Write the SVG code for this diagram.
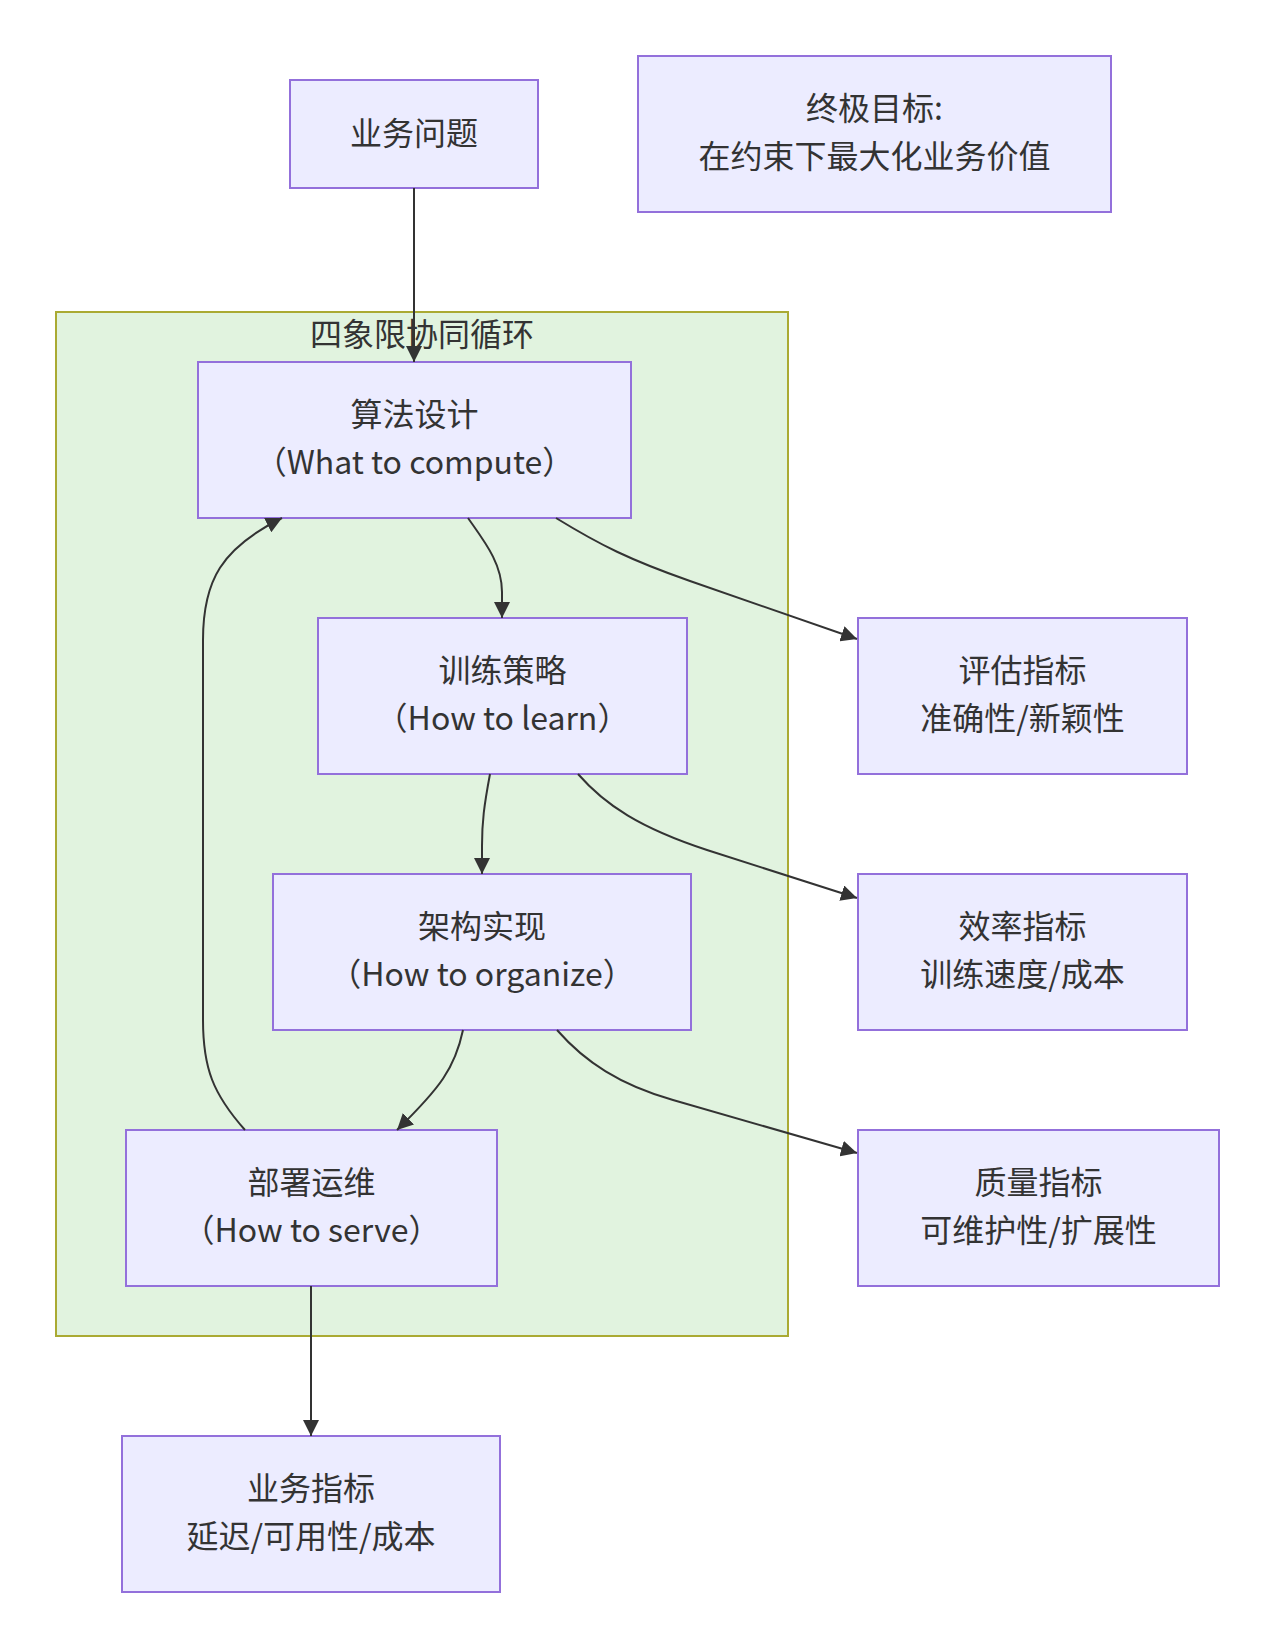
<svg xmlns="http://www.w3.org/2000/svg" width="1275" height="1648" viewBox="0 0 1275 1648">
<defs>
<style>
.node rect{fill:#ECECFF;stroke:#9370DB;stroke-width:2;}
.cluster rect{fill:#e1f3df;stroke:#aaaa33;stroke-width:2;}
text{font-family:"Noto Sans CJK SC","Noto Sans",sans-serif;font-size:32px;fill:#333;text-anchor:middle;}
.edges path{fill:none;stroke:#333;stroke-width:2;}
</style>
<marker id="arrow" viewBox="0 0 10 10" refX="10" refY="5" markerUnits="userSpaceOnUse" markerWidth="16" markerHeight="16" orient="auto">
<path d="M0,0 L10,5 L0,10 z" fill="#333"/>
</marker>
</defs>
<rect width="1275" height="1648" fill="#ffffff"/>
<g id="cluster-loop" class="cluster">
<rect x="56" y="312" width="732" height="1024"/>
<text x="422" y="346">四象限协同循环</text>
</g>
<g id="node-biz" class="node">
<rect x="290" y="80" width="248" height="108"/>
<text x="414" y="145">业务问题</text>
</g>
<g id="node-goal" class="node">
<rect x="638" y="56" width="473" height="156"/>
<text x="874.5" y="120">终极目标:</text>
<text x="874.5" y="168">在约束下最大化业务价值</text>
</g>
<g id="node-algo" class="node">
<rect x="198" y="362" width="433" height="156"/>
<text x="414.5" y="426">算法设计</text>
<text x="414.5" y="474">（What to compute）</text>
</g>
<g id="node-train" class="node">
<rect x="318" y="618" width="369" height="156"/>
<text x="502.5" y="682">训练策略</text>
<text x="502.5" y="730">（How to learn）</text>
</g>
<g id="node-eval" class="node">
<rect x="858" y="618" width="329" height="156"/>
<text x="1022.5" y="682">评估指标</text>
<text x="1022.5" y="730">准确性/新颖性</text>
</g>
<g id="node-arch" class="node">
<rect x="273" y="874" width="418" height="156"/>
<text x="482" y="938">架构实现</text>
<text x="482" y="986">（How to organize）</text>
</g>
<g id="node-eff" class="node">
<rect x="858" y="874" width="329" height="156"/>
<text x="1022.5" y="938">效率指标</text>
<text x="1022.5" y="986">训练速度/成本</text>
</g>
<g id="node-deploy" class="node">
<rect x="126" y="1130" width="371" height="156"/>
<text x="311.5" y="1194">部署运维</text>
<text x="311.5" y="1242">（How to serve）</text>
</g>
<g id="node-qual" class="node">
<rect x="858" y="1130" width="361" height="156"/>
<text x="1038.5" y="1194">质量指标</text>
<text x="1038.5" y="1242">可维护性/扩展性</text>
</g>
<g id="node-bizm" class="node">
<rect x="122" y="1436" width="378" height="156"/>
<text x="311" y="1500">业务指标</text>
<text x="311" y="1548">延迟/可用性/成本</text>
</g>
<g id="connectors" class="edges">
<path d="M414,188 L414,362" marker-end="url(#arrow)"/>
<path d="M468,518 C484,541 502,563 502,592 L502,618" marker-end="url(#arrow)"/>
<path d="M490,774 C484,806 482,822 482,846 L482,874" marker-end="url(#arrow)"/>
<path d="M463,1030 C455,1068 440,1088 397,1130" marker-end="url(#arrow)"/>
<path d="M245,1130 C213,1094 203,1068 203,1020 L203,640 C203,580 222,548 282,518" marker-end="url(#arrow)"/>
<path d="M556,518 C600,545 630,560 690,581 L857,639" marker-end="url(#arrow)"/>
<path d="M578,774 C605,805 640,828 707,850 L857,898" marker-end="url(#arrow)"/>
<path d="M557,1030 C585,1062 620,1085 673,1100 L857,1153" marker-end="url(#arrow)"/>
<path d="M311,1286 L311,1436" marker-end="url(#arrow)"/>
</g>
</svg>
